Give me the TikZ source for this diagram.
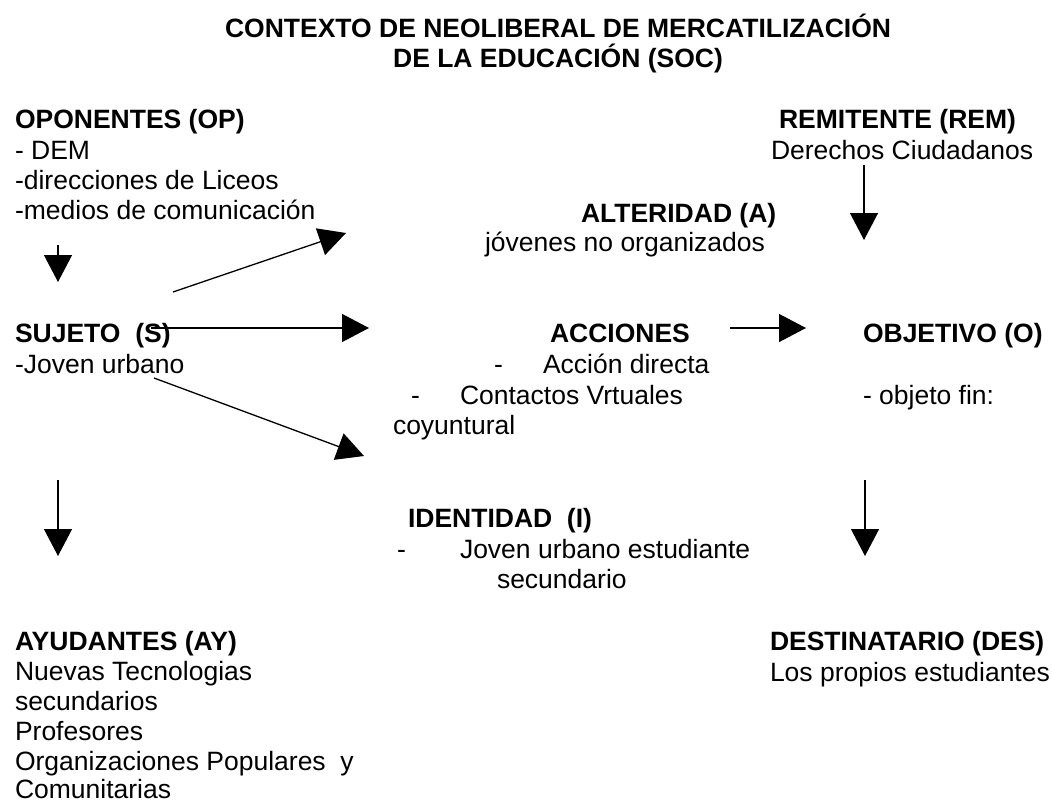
\documentclass[tikz,border=0pt]{standalone}
\usepackage{fontspec}
\setmainfont{Liberation Sans}
\usetikzlibrary{arrows.meta}
\tikzset{
  txt/.style={anchor=base west, inner sep=0pt, outer sep=0pt, font=\fontsize{26.5}{30.5}\selectfont},
  hd/.style={txt, font=\fontsize{26.5}{30.5}\selectfont\bfseries},
  arr/.style={line width=1.3pt, -{Triangle[length=27pt,width=28pt]}},
}
\begin{document}
\begin{tikzpicture}[x=1pt,y=-1pt]
\useasboundingbox (0,0) rectangle (1052,803);
% title
\node[hd, anchor=base] (t1) at (558,37) {CONTEXTO DE NEOLIBERAL DE MERCATILIZACIÓN};
\node[hd, anchor=base] (t2) at (558,67) {DE LA EDUCACIÓN (SOC)};
% oponentes
\node[hd] (op) at (15,128) {OPONENTES (OP)};
\node[txt] (op1) at (15,159) {- DEM};
\node[txt] (op2) at (15,189) {-direcciones de Liceos};
\node[txt] (op3) at (15,219) {-medios de comunicación};
% remitente
\node[hd] (rem) at (779,128) {REMITENTE (REM)};
\node[txt] (rem1) at (771,159) {Derechos Ciudadanos};
% alteridad
\node[hd] (alt) at (581,222) {ALTERIDAD (A)};
\node[txt] (alt1) at (485,251) {jóvenes no organizados};
% sujeto
\node[hd] (suj) at (15,342) {SUJETO~~(S)};
\node[txt] (suj1) at (15,373) {-Joven urbano};
% acciones
\node[hd] (acc) at (550,342) {ACCIONES};
\node[txt] (accd1) at (494,373) {-};
\node[txt] (acc1) at (543,373) {Acción directa};
\node[txt] (accd2) at (411,404) {-};
\node[txt] (acc2) at (460,404) {Contactos Vrtuales};
\node[txt] (acc3) at (393,434) {coyuntural};
% objetivo
\node[hd] (obj) at (863,342) {OBJETIVO (O)};
\node[txt] (obj1) at (863,404) {- objeto fin:};
% identidad
\node[hd] (ide) at (408,527) {IDENTIDAD~~(I)};
\node[txt] (ided) at (397,558) {-};
\node[txt] (ide1) at (460,558) {Joven urbano estudiante};
\node[txt] (ide2) at (497,588) {secundario};
% ayudantes
\node[hd] (ay) at (15,650) {AYUDANTES (AY)};
\node[txt] (ay1) at (15,680) {Nuevas Tecnologias};
\node[txt] (ay2) at (15,710) {secundarios};
\node[txt] (ay3) at (15,740) {Profesores};
\node[txt] (ay4) at (15,770) {Organizaciones Populares~~y};
\node[txt] (ay5) at (15,798) {Comunitarias};
% destinatario
\node[hd] (des) at (770,650) {DESTINATARIO (DES)};
\node[txt] (des1) at (770,681) {Los propios estudiantes};
% arrow end points
\coordinate (opA) at (58,245);   \coordinate (opB) at (58,282);
\coordinate (remA) at (864,165); \coordinate (remB) at (864,240);
\coordinate (upA) at (173,292);  \coordinate (upB) at (346,233);
\coordinate (hA) at (151,328);   \coordinate (hB) at (369,328);
\coordinate (aoA) at (730,328);  \coordinate (aoB) at (806,328);
\coordinate (dnA) at (154,378);  \coordinate (dnB) at (364,456);
\coordinate (ayA) at (58,480);   \coordinate (ayB) at (58,556);
\coordinate (deA) at (865,480);  \coordinate (deB) at (865,556);
\draw[arr] (opA) -- (opB);
\draw[arr] (remA) -- (remB);
\draw[arr] (upA) -- (upB);
\draw[arr] (hA) -- (hB);
\draw[arr] (aoA) -- (aoB);
\draw[arr] (dnA) -- (dnB);
\draw[arr] (ayA) -- (ayB);
\draw[arr] (deA) -- (deB);
\end{tikzpicture}
\end{document}
